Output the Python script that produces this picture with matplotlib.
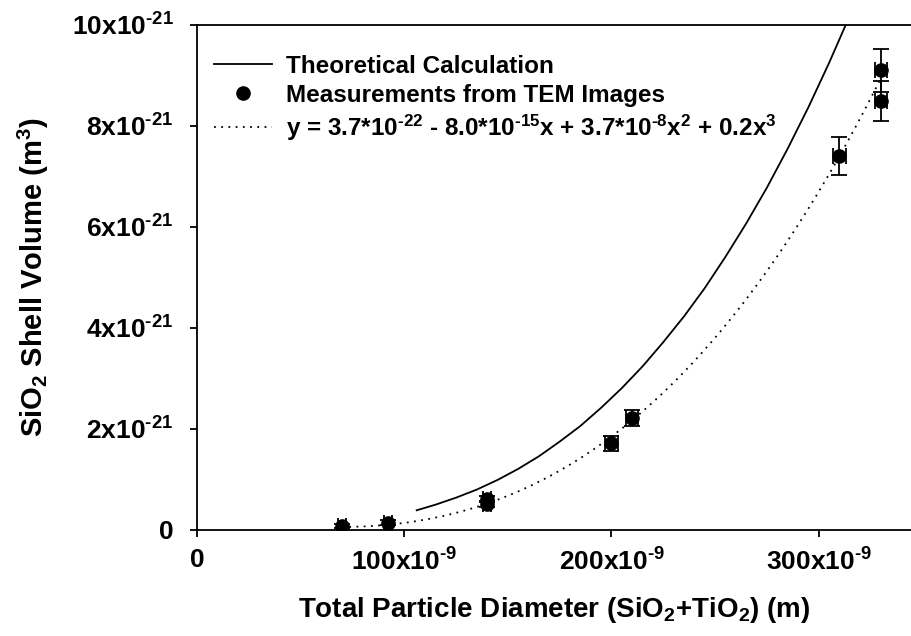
import numpy as np
import matplotlib
matplotlib.use('Agg')
import matplotlib.pyplot as plt
from matplotlib.lines import Line2D

plt.rcParams['font.family'] = ['Liberation Sans', 'DejaVu Sans']
plt.rcParams['font.weight'] = 'bold'
plt.rcParams['axes.labelweight'] = 'bold'
plt.rcParams['mathtext.default'] = 'regular'

HY = '\u2010'  # short hyphen for the exponents

# measured shell volumes (diameter in m, volume in m^3)
meas_d = np.array([70, 92, 140, 140, 200, 210, 310, 330, 330]) * 1e-9
meas_v = np.array([0.08, 0.14, 0.62, 0.52, 1.72, 2.22, 7.40, 9.10, 8.50]) * 1e-21
meas_verr = np.array([0.04, 0.05, 0.06, 0.06, 0.15, 0.16, 0.38, 0.42, 0.40]) * 1e-21
meas_derr = np.array([2, 2, 2, 2, 3, 3, 3, 3, 3]) * 1e-9

# theoretical calculation
theo_d = np.array([106, 115, 125, 135, 145, 155, 165, 175, 185, 195, 205, 215, 225,
                   235, 245, 255, 265, 275, 285, 295, 305, 313]) * 1e-9
theo_v = np.array([0.39, 0.50, 0.64, 0.80, 0.99, 1.21, 1.46, 1.75, 2.06, 2.42, 2.81,
                   3.24, 3.72, 4.23, 4.79, 5.41, 6.07, 6.78, 7.55, 8.37, 9.25, 10.0]) * 1e-21

# cubic fit coefficients (highest power first)
fit_coef = [0.2, 3.7e-8, -8.0e-15, 3.7e-22]
fit_range = (70e-9, 330e-9)

xticks = [0, 100e-9, 200e-9, 300e-9]
xlabels = ['0'] + ['%dx10$^{%s9}$' % (k, HY) for k in (100, 200, 300)]
yticks = [0, 2e-21, 4e-21, 6e-21, 8e-21, 10e-21]
ylabels = ['0'] + ['%dx10$^{%s21}$' % (k, HY) for k in (2, 4, 6, 8, 10)]

fig = plt.figure(figsize=(9.12, 6.36), dpi=100)
ax = fig.add_axes([0.216, 0.1667, 0.784, 0.794])

ax.plot(theo_d, theo_v, color='black', lw=1.3)

fx = np.linspace(fit_range[0], fit_range[1], 200)
ax.plot(fx, np.polyval(fit_coef, fx), color='black', lw=1.3, linestyle=(0, (1, 3)))

ax.errorbar(meas_d, meas_v, yerr=meas_verr, xerr=meas_derr, fmt='o', color='black',
            markersize=9.5, elinewidth=1.3, capsize=5.5, capthick=1.3)

ax.set_xlim(0, 345e-9)
ax.set_ylim(0, 10e-21)
ax.set_xticks(xticks)
ax.set_xticklabels(xlabels)
ax.set_yticks(yticks)
ax.set_yticklabels(ylabels)
ax.tick_params(direction='out', length=5, width=1.3, labelsize=19)
ax.tick_params(axis='y', pad=12)
ax.tick_params(axis='x', pad=8)
ax.spines['right'].set_visible(False)
for s in ('left', 'bottom', 'top'):
    ax.spines[s].set_linewidth(1.3)

ax.set_xlabel('Total Particle Diameter (SiO$_2$+TiO$_2$) (m)', fontsize=20, labelpad=14)
ax.set_ylabel('SiO$_2$ Shell Volume (m$^3$)', fontsize=21, labelpad=15)

handles = [
    Line2D([], [], color='black', lw=1.3),
    Line2D([], [], color='black', marker='o', linestyle='none', markersize=9.5),
    Line2D([], [], color='black', lw=1.3, linestyle=(0, (1, 3))),
]
labels = ['Theoretical Calculation', 'Measurements from TEM Images',
          'y = 3.7*10$^{%s22}$ - 8.0*10$^{%s15}$x + 3.7*10$^{%s8}$x$^2$ + 0.2x$^3$'
          % (HY, HY, HY)]
ax.legend(handles, labels, loc='upper left', frameon=False, fontsize=17.5,
          handlelength=2.4, handletextpad=0.55, labelspacing=0.25,
          borderaxespad=0.3, bbox_to_anchor=(0.0, 0.975))

fig.savefig('out.png', dpi=100)
